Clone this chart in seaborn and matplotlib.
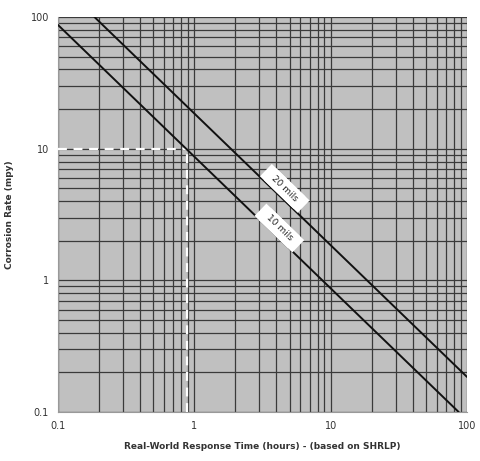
import matplotlib
matplotlib.use("Agg")
import matplotlib.pyplot as plt
import seaborn as sns
import pandas as pd
from matplotlib.ticker import LogLocator, NullFormatter, FixedLocator, FixedFormatter

# values (log-log, both lines slope -1)
upper_x = [0.185, 100]
upper_y = [100, 0.185]
lower_x = [0.1, 87]
lower_y = [87, 0.1]
marker_x = 0.88
marker_y = 10
tick_vals = [0.1, 1, 10, 100]
tick_labels = ["0.1", "1", "10", "100"]
line_labels = ["20 mils", "10 mils"]

sns.set_style("white")
plt.rcParams["font.family"] = ["DejaVu Sans"]

df = pd.concat([
    pd.DataFrame({"x": upper_x, "y": upper_y, "line": "upper"}),
    pd.DataFrame({"x": lower_x, "y": lower_y, "line": "lower"}),
])

fig = plt.figure(figsize=(4.8, 4.61), dpi=100)
ax = fig.add_axes([0.121, 0.106, 0.852, 0.857])
ax.set_facecolor("#c0c0c0")
ax.set_xscale("log")
ax.set_yscale("log")
ax.set_xlim(0.1, 100)
ax.set_ylim(0.1, 100)

# grid at every major and minor decade line
ax.xaxis.set_minor_locator(LogLocator(base=10, subs=range(2, 10)))
ax.yaxis.set_minor_locator(LogLocator(base=10, subs=range(2, 10)))
ax.grid(True, which="both", color="#3a3a3a", linewidth=0.9)
ax.set_axisbelow(True)

# white dashed guide lines
ax.plot([0.1, marker_x], [marker_y, marker_y], color="white", ls=(0, (4, 3)), lw=1.6, zorder=3)
ax.plot([marker_x, marker_x], [0.1, marker_y], color="white", ls=(0, (4, 3)), lw=1.6, zorder=3)

sns.lineplot(data=df, x="x", y="y", hue="line", palette=["#111111", "#111111"],
             legend=False, ax=ax, linewidth=1.4, zorder=4, sort=False, estimator=None)

# rotated labels sitting just above each line
for (lx, ly), txt in zip([(4.6, 5.0), (4.2, 2.5)], line_labels):
    ax.text(lx, ly, txt, rotation=-44, rotation_mode="anchor", ha="center", va="center",
            fontsize=6.5, color="#222222", zorder=5,
            bbox=dict(boxstyle="square,pad=0.45", fc="white", ec="none"))
    ax.text(lx, ly, "  " + txt + "  ", rotation=-44, rotation_mode="anchor", ha="center", va="center",
            fontsize=6.5, color="none", zorder=4.5,
            bbox=dict(boxstyle="square,pad=0.45", fc="white", ec="none"))

ax.xaxis.set_major_locator(FixedLocator(tick_vals))
ax.xaxis.set_major_formatter(FixedFormatter(tick_labels))
ax.yaxis.set_major_locator(FixedLocator(tick_vals))
ax.yaxis.set_major_formatter(FixedFormatter(tick_labels))
ax.xaxis.set_minor_formatter(NullFormatter())
ax.yaxis.set_minor_formatter(NullFormatter())
ax.tick_params(axis="both", which="major", labelsize=7, length=3, color="#888888", colors="#333333")
ax.tick_params(axis="both", which="minor", length=0)

for s in ["top", "right"]:
    ax.spines[s].set_visible(False)
for s in ["left", "bottom"]:
    ax.spines[s].set_color("#999999")
    ax.spines[s].set_linewidth(0.8)

ax.set_xlabel("Real-World Response Time (hours) - (based on SHRLP)", fontsize=6.5, fontweight="bold", color="#333333", labelpad=8)
ax.set_ylabel("Corrosion Rate (mpy)", fontsize=6.5, fontweight="bold", color="#333333", labelpad=12)

fig.savefig("out.png", dpi=100)
